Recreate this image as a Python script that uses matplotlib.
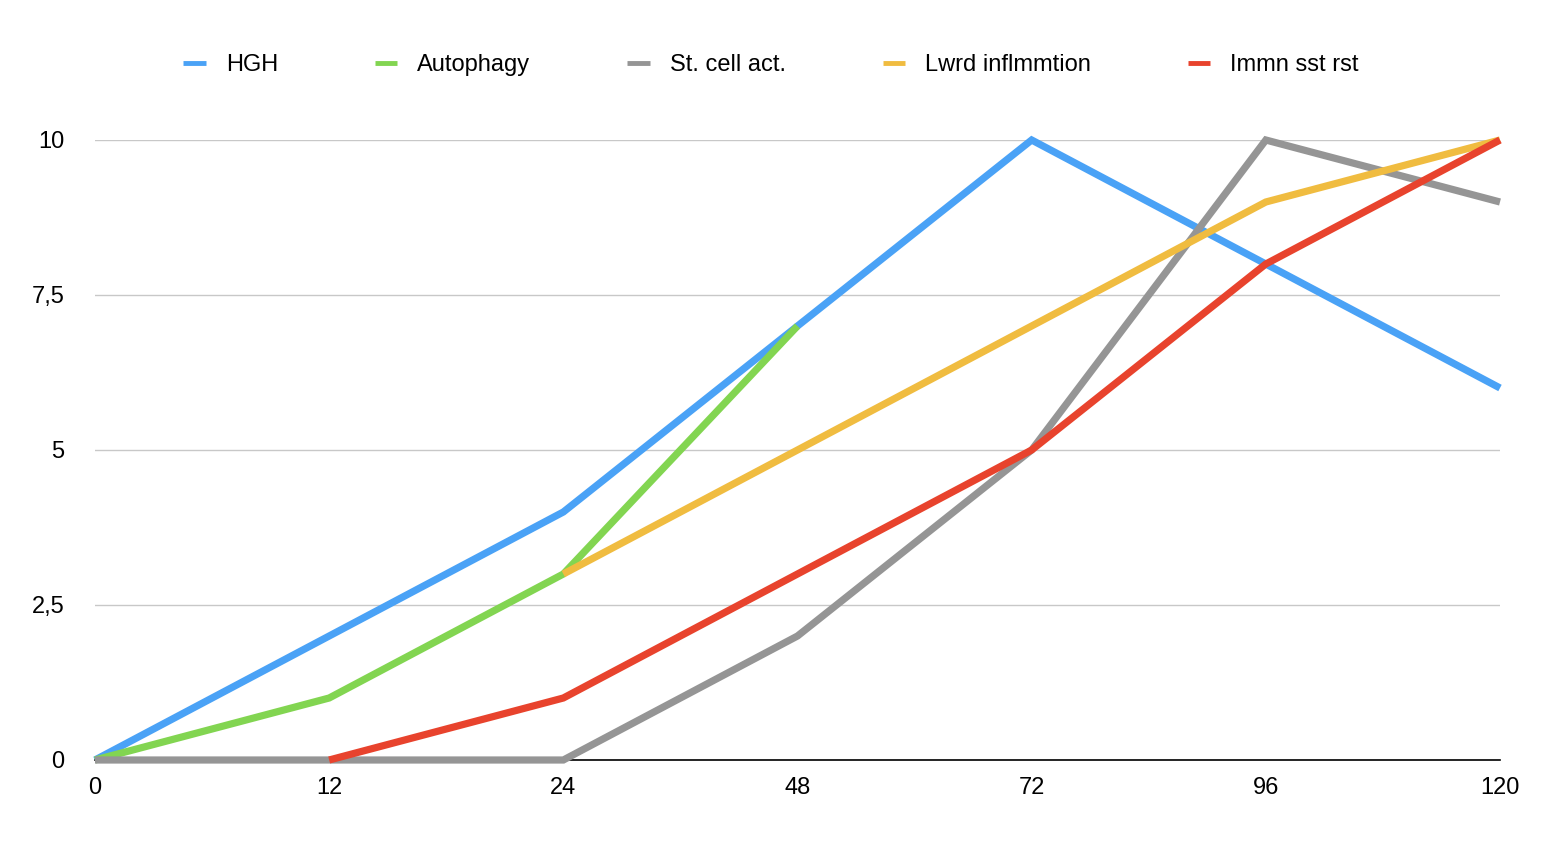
import matplotlib.pyplot as plt
import numpy as np

horas = ['0', '12', '24', '48', '72', '96', '120']
nan = np.nan
hgh = [0, 2, 4, 7, 10, 8, 6]
autofagia = [0, 1, 3, 7, nan, nan, nan]
celulas = [0, 0, 0, 2, 5, 10, 9]
inflamacion = [nan, nan, 3, 5, 7, 9, 10]
inmune = [nan, 0, 1, 3, 5, 8, 10]

series = [
    ('HGH', hgh, '#4AA2F6'),
    ('Autophagy', autofagia, '#82D551'),
    ('St. cell act.', celulas, '#959595'),
    ('Lwrd inflmmtion', inflamacion, '#F0BC40'),
    ('Immn sst rst', inmune, '#E8432D'),
]

plt.rcParams['font.family'] = ['Liberation Sans', 'DejaVu Sans']

fig = plt.figure(figsize=(15.66, 8.52), dpi=100)
ax = fig.add_axes([95 / 1566, 92 / 852, 1405 / 1566, 620 / 852])

x = np.arange(len(horas))
for i, (nombre, valores, color) in enumerate(series):
    ax.plot(x, valores, color=color, linewidth=5.2, label=nombre,
            solid_capstyle='butt', solid_joinstyle='miter',
            clip_on=False, zorder=3 + i)

ax.set_xlim(0, len(horas) - 1)
ax.set_ylim(0, 10)
ax.set_xticks(x)
ax.set_xticklabels(horas)
ax.set_yticks([0, 2.5, 5, 7.5, 10])
ax.set_yticklabels(['0', '2,5', '5', '7,5', '10'])
ax.tick_params(axis='both', length=0, labelsize=17, pad=12)
ax.tick_params(axis='y', pad=22)
ax.grid(axis='y', color='#c8c8c8', linewidth=1)
ax.set_axisbelow(True)
for lado in ['top', 'right', 'left']:
    ax.spines[lado].set_visible(False)
ax.spines['bottom'].set_color('black')
ax.spines['bottom'].set_linewidth(1.2)
ax.spines['bottom'].set_zorder(2)

leg = fig.legend(loc='center', bbox_to_anchor=(771 / 1566, (852 - 65) / 852), ncol=5,
                 frameon=False, fontsize=17, handlelength=0.95, handletextpad=0.85,
                 columnspacing=4.1)
for linea in leg.get_lines():
    linea.set_linewidth(3.5)

fig.savefig('out.png', dpi=100)
